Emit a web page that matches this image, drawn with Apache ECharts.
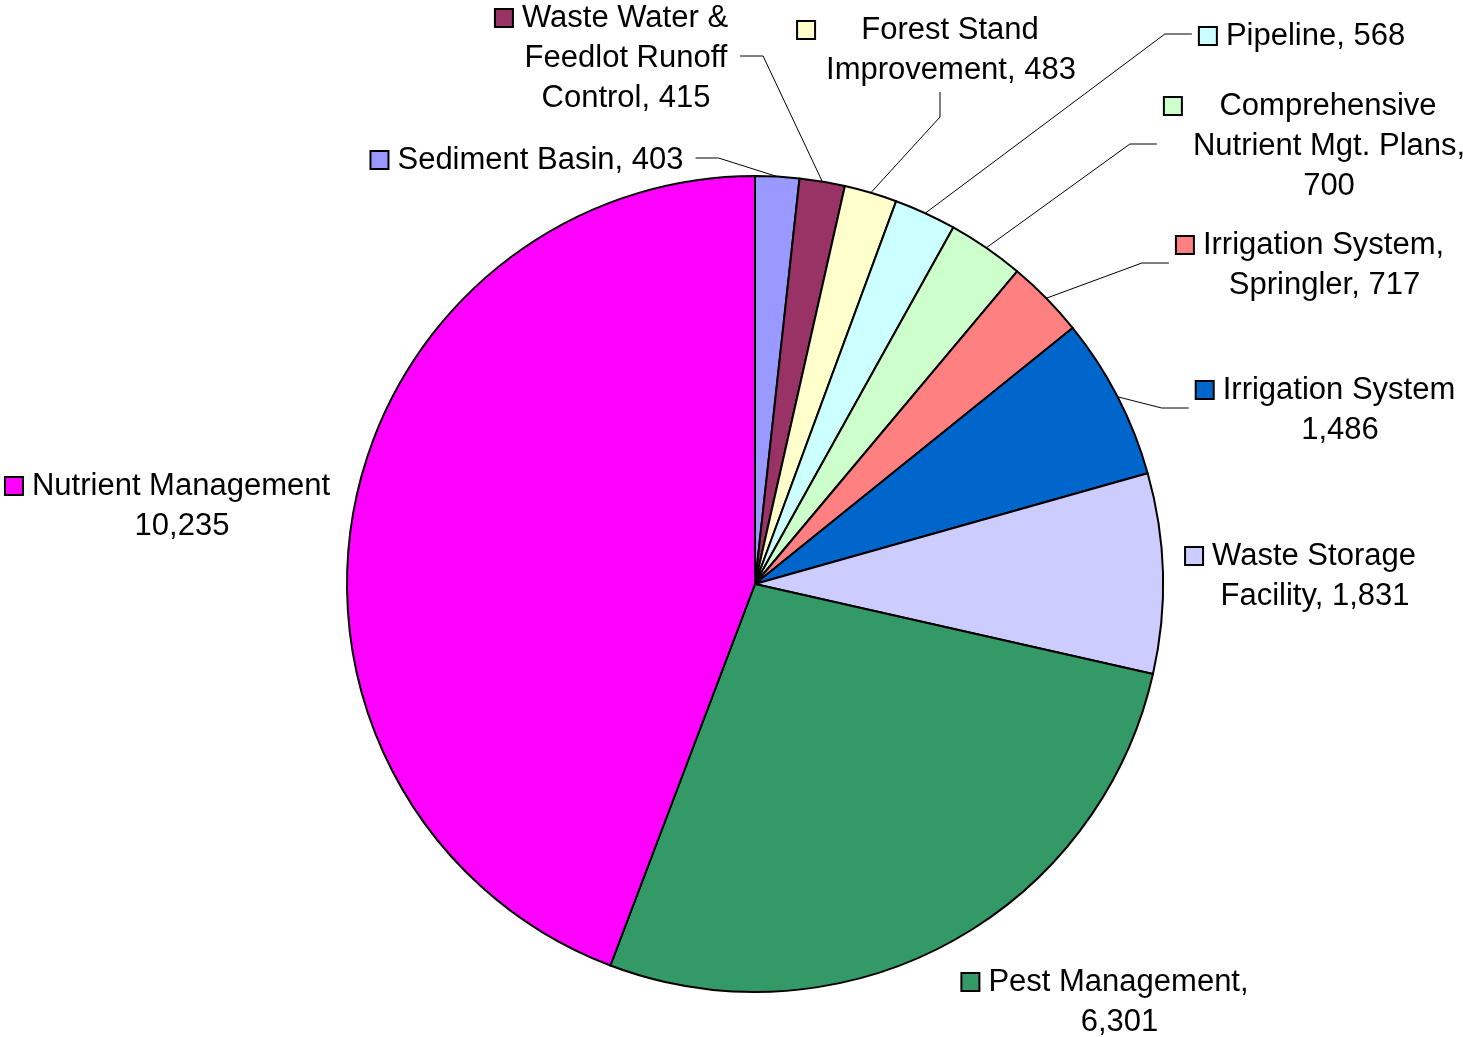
<!DOCTYPE html>
<html>
<head>
<meta charset="utf-8">
<title>Practices</title>
<script src="https://cdn.jsdelivr.net/npm/echarts@6/dist/echarts.min.js"></script>
<style>
  html, body { margin: 0; padding: 0; background: #fff; }
  #chart { width: 1463px; height: 1037px; }
</style>
</head>
<body>
<div id="chart"></div>
<script>
// data, clockwise from 12 o'clock
const categories = [
  'Sediment Basin',
  'Waste Water & Feedlot Runoff Control',
  'Forest Stand Improvement',
  'Pipeline',
  'Comprehensive Nutrient Mgt. Plans',
  'Irrigation System, Springler',
  'Irrigation System',
  'Waste Storage Facility',
  'Pest Management',
  'Nutrient Management'
];
const values = [403, 415, 483, 568, 700, 717, 1486, 1831, 6301, 10235];

// how each label wraps ({v} = value)
const labelText = [
  'Sediment Basin, {v}',
  'Waste Water &\nFeedlot Runoff\nControl, {v}',
  'Forest Stand\nImprovement, {v}',
  'Pipeline, {v}',
  'Comprehensive\nNutrient Mgt. Plans,\n{v}',
  'Irrigation System,\nSpringler, {v}',
  'Irrigation System\n{v}',
  'Waste Storage\nFacility, {v}',
  'Pest Management,\n{v}',
  'Nutrient Management\n{v}'
];

const colors = ['#9999FF', '#993366', '#FFFFCC', '#CCFFFF', '#CCFFCC',
  '#FF8080', '#0066CC', '#CCCCFF', '#339966', '#FF00FF'];

// label block centres and where the leader line joins the label
const labelSpots = [
  [541.5, 160], [626, 58], [951, 50], [1316.5, 36], [1329, 146],
  [1324.5, 265], [1340, 410], [1315, 576], [1119.5, 1002], [182, 506]
];
const leaderSide = ['left', 'left', 'below', 'right', 'right', 'right', 'right', null, null, null];

const FONT = '"Liberation Sans", Arial, sans-serif';
const PAD = 28;

const rich = {
  t: { fontSize: 31, lineHeight: 40, color: '#000', fontFamily: FONT },
  g: { width: 10, align: 'left', lineHeight: 40 },
  q: { width: PAD, align: 'left', lineHeight: 40 },
  p: { width: PAD, align: 'right', lineHeight: 40 }
};
colors.forEach((c, i) => {
  rich['m' + i] = {
    width: 16, height: 16, align: 'left', lineHeight: 40,
    backgroundColor: c, borderColor: '#000', borderWidth: 2
  };
});

const chart = echarts.init(document.getElementById('chart'));

chart.setOption({
  animation: false,
  backgroundColor: '#fff',
  series: [
    {
      type: 'pie',
      center: [755, 584],
      radius: 408,
      startAngle: 90,
      clockwise: true,
      avoidLabelOverlap: false,
      emphasis: { disabled: true },
      itemStyle: { borderColor: '#000', borderWidth: 2 },
      label: {
        show: true,
        position: 'outside',
        fontSize: 31,
        lineHeight: 40,
        fontFamily: FONT,
        color: '#000',
        formatter: (p) => {
          const txt = labelText[p.dataIndex].replace('{v}', p.value.toLocaleString('en-US'));
          return txt.split('\n')
            .map((ln, i) => (i === 0 ? `{m${p.dataIndex}|}{g|}` : '{q|}') + `{t|${ln}}{p|}`)
            .join('\n');
        },
        rich: rich
      },
      labelLine: {
        show: true,
        lineStyle: { color: '#000', width: 1 }
      },
      labelLayout: (params) => {
        const i = params.dataIndex;
        const [lx, ly] = labelSpots[i];
        const w = params.labelRect.width;
        const h = params.labelRect.height;
        const out = { x: lx, y: ly, align: 'center', verticalAlign: 'middle' };
        const side = leaderSide[i];
        const pts = params.labelLinePoints;
        if (side && pts) {
          const start = pts[0];
          let end, elbow;
          if (side === 'left') {
            end = [lx + w / 2 - PAD + 11, ly - 2];
            elbow = [end[0] + 23, ly - 2];
          } else if (side === 'right') {
            end = [lx - w / 2 - 7, ly - 2];
            elbow = [end[0] - 27, ly - 2];
          } else {
            end = [lx - 11, ly + h / 2 + 2];
            elbow = [lx - 11, end[1] + 25];
          }
          out.labelLinePoints = [start, elbow, end];
        }
        return out;
      },
      data: categories.map((name, i) => ({
        name: name,
        value: values[i],
        itemStyle: { color: colors[i] },
        labelLine: { show: !!leaderSide[i] }
      }))
    }
  ]
});
</script>
</body>
</html>
